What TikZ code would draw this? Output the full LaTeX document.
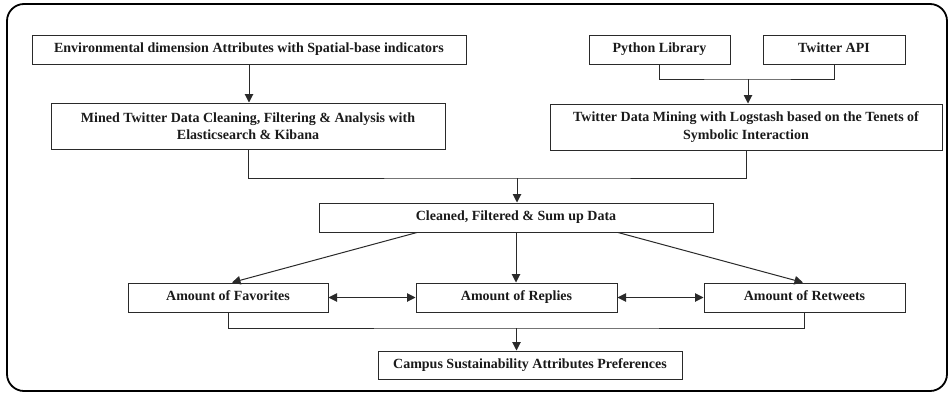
\documentclass[tikz,border=0pt]{standalone}
\usepackage{fontspec}
\setmainfont{Liberation Serif}
\usetikzlibrary{arrows.meta}
\definecolor{ink}{HTML}{1A1A1A}
\definecolor{edge}{HTML}{2A2A2A}
\begin{document}
\begin{tikzpicture}[x=1pt,y=-1pt,
  box/.style={draw=edge, line width=1pt, inner sep=0pt, align=center, text=ink,
    font=\bfseries\fontsize{14}{17.5}\selectfont},
  one/.style={box, text height=9.8pt, text depth=3pt},
  conn/.style={draw=edge, line width=1pt},
  arr/.style={conn, -{Triangle[length=8.5pt,width=8.5pt]}},
  darr/.style={conn, {Triangle[length=8.5pt,width=8.5pt]}-{Triangle[length=8.5pt,width=8.5pt]}}]
\useasboundingbox (0,0) rectangle (950,394);
\draw[line width=1.8pt, rounded corners=17pt] (7,4) rectangle (947,391);

\node[one, minimum width=434pt, minimum height=29pt] (env) at (249,49.5)
  {Environmental dimension Attributes with Spatial-base indicators};
\node[box, minimum width=394pt, minimum height=46pt] (mined) at (248,126)
  {Mined Twitter Data Cleaning, Filtering \& Analysis with\\Elasticsearch \& Kibana};
\node[one, minimum width=141pt, minimum height=29pt] (python) at (659.5,49.5) {Python Library};
\node[one, minimum width=142pt, minimum height=29pt] (tapi) at (834,49.5) {Twitter API};
\node[box, minimum width=392pt, minimum height=46pt] (mining) at (746,127)
  {Twitter Data Mining with Logstash based on the Tenets of\\Symbolic Interaction};
\node[one, minimum width=394pt, minimum height=29pt] (clean) at (516,217.5)
  {Cleaned, Filtered \& Sum up Data};
\node[one, minimum width=200pt, minimum height=29pt] (fav) at (228,297.5) {Amount of Favorites};
\node[one, minimum width=201pt, minimum height=29pt] (rep) at (516.5,297.5) {Amount of Replies};
\node[one, minimum width=201pt, minimum height=29pt] (ret) at (804.5,297.5) {Amount of Retweets};
\node[one, minimum width=304pt, minimum height=28pt] (campus) at (530,365)
  {Campus Sustainability Attributes Preferences};

\coordinate (j1) at (748,79);
\coordinate (j2) at (517,178);
\coordinate (j3) at (516.5,328);

\draw[arr] (env.south) -- (env.south |- mined.north);
\draw[conn] (python.south) |- (j1) -| (tapi.south);
\draw[arr] (j1) -- (j1 |- mining.north);
\draw[conn] (mined.south) |- (j2) -| (mining.south);
\draw[arr] (j2) -- (j2 |- clean.north);
\draw[arr] ([xshift=-99pt]clean.south) -- ([xshift=4pt]fav.north);
\draw[arr] (clean.south) -- (clean.south |- rep.north);
\draw[arr] ([xshift=102pt]clean.south) -- ([xshift=-1.5pt]ret.north);
\draw[darr] (fav.east) -- (rep.west);
\draw[darr] (rep.east) -- (ret.west);
\draw[conn] (fav.south) |- (j3) -| (ret.south);
\draw[arr] (j3) -- (j3 |- campus.north);
\end{tikzpicture}
\end{document}
